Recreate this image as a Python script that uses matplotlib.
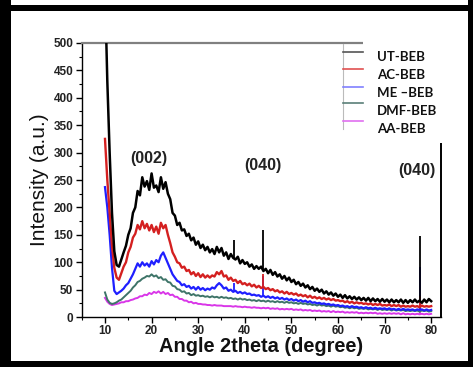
import numpy as np
import matplotlib
matplotlib.use("Agg")
import matplotlib.pyplot as plt
from matplotlib.patches import Rectangle
from matplotlib.lines import Line2D

plt.rcParams["font.family"] = ["Liberation Sans", "DejaVu Sans"]

# 2theta grid, 0.5 degree steps from 10 to 80
angle = np.linspace(10, 80, 141)

ut_beb = [600, 430, 300, 190, 120, 95, 92, 105, 118, 130,
          150, 162, 190, 200, 230, 222, 255, 238, 248, 232,
          262, 236, 240, 228, 255, 234, 246, 225, 215, 190,
          185, 168, 172, 158, 160, 148, 152, 140, 145, 132,
          138, 126, 132, 122, 128, 118, 124, 115, 128, 118,
          126, 112, 118, 106, 115, 108, 105, 110, 98, 104,
          97, 100, 92, 96, 88, 93, 88, 92, 84, 88,
          80, 86, 77, 82, 74, 78, 70, 75, 67, 72,
          64, 68, 60, 64, 57, 61, 54, 58, 51, 55,
          48, 52, 46, 50, 43, 47, 41, 45, 39, 43,
          37, 41, 35, 40, 34, 38, 33, 37, 32, 36,
          31, 35, 30, 35, 29, 34, 29, 33, 28, 33,
          28, 32, 27, 32, 27, 31, 27, 32, 26, 31,
          26, 31, 27, 32, 27, 30, 26, 32, 27, 33,
          29]

ac_beb = [325, 250, 190, 130, 90, 72, 68, 80, 92, 100,
          118, 128, 145, 152, 168, 160, 175, 162, 170, 158,
          168, 155, 165, 152, 172, 162, 168, 150, 135, 118,
          110, 100, 98, 90, 92, 84, 86, 78, 82, 75,
          80, 73, 78, 72, 76, 72, 76, 74, 82, 78,
          84, 74, 76, 68, 72, 66, 68, 62, 66, 60,
          62, 58, 61, 56, 59, 54, 57, 53, 55, 51,
          53, 49, 51, 47, 49, 45, 47, 43, 46, 42,
          44, 41, 43, 39, 41, 38, 40, 36, 39, 35,
          37, 34, 36, 33, 35, 32, 34, 31, 33, 30,
          31, 29, 30, 27, 29, 26, 28, 25, 27, 25,
          26, 24, 25, 23, 25, 22, 24, 22, 24, 21,
          22, 21, 23, 20, 22, 20, 22, 19, 21, 19,
          20, 19, 21, 19, 20, 18, 21, 19, 20, 19,
          20]

me_beb = [237, 200, 150, 90, 48, 42, 45, 48, 52, 58,
          62, 70, 78, 88, 98, 92, 100, 94, 98, 92,
          102, 96, 104, 100, 112, 118, 108, 98, 88, 78,
          72, 66, 64, 58, 60, 55, 57, 52, 55, 50,
          55, 50, 53, 49, 52, 50, 54, 52, 58, 62,
          58, 52, 54, 48, 50, 46, 48, 44, 46, 43,
          45, 42, 43, 40, 41, 39, 40, 37, 39, 36,
          38, 35, 37, 34, 36, 33, 35, 32, 34, 31,
          33, 30, 32, 29, 31, 28, 30, 27, 29, 26,
          27, 25, 26, 24, 25, 23, 24, 22, 23, 21,
          22, 20, 21, 19, 20, 18, 20, 18, 19, 17,
          18, 16, 18, 16, 17, 15, 17, 15, 16, 15,
          16, 14, 16, 14, 15, 13, 15, 13, 15, 13,
          14, 13, 14, 12, 14, 13, 14, 12, 14, 12,
          13]

dmf_beb = [45, 32, 26, 24, 25, 27, 30, 32, 36, 40,
           44, 48, 54, 58, 64, 66, 70, 72, 75, 74,
           78, 74, 76, 71, 73, 68, 69, 64, 63, 57,
           56, 51, 50, 46, 47, 43, 44, 40, 42, 39,
           40, 38, 39, 37, 38, 36, 38, 36, 37, 35,
           37, 35, 36, 34, 35, 33, 34, 32, 34, 32,
           33, 31, 32, 30, 31, 29, 31, 29, 30, 28,
           30, 28, 29, 27, 29, 27, 28, 26, 28, 26,
           27, 25, 26, 24, 26, 24, 25, 23, 24, 22,
           23, 21, 23, 21, 22, 20, 21, 19, 21, 19,
           20, 18, 19, 17, 18, 16, 18, 16, 17, 15,
           16, 15, 16, 14, 15, 14, 15, 13, 15, 13,
           14, 13, 14, 12, 14, 12, 13, 12, 13, 11,
           12, 11, 12, 11, 12, 10, 12, 11, 12, 10,
           11]

aa_beb = [35, 28, 24, 22, 23, 24, 25, 27, 27, 29,
          29, 31, 32, 34, 35, 38, 38, 41, 40, 44,
          42, 46, 44, 47, 43, 46, 42, 44, 40, 41,
          37, 37, 33, 33, 30, 30, 27, 28, 25, 26,
          24, 24, 23, 23, 22, 22, 21, 22, 21, 21,
          21, 20, 20, 20, 20, 19, 20, 19, 19, 18,
          19, 18, 18, 17, 18, 17, 17, 16, 17, 16,
          17, 15, 16, 15, 16, 14, 15, 14, 15, 14,
          15, 13, 14, 13, 14, 12, 13, 12, 13, 11,
          12, 11, 12, 10, 11, 10, 11, 9, 11, 9,
          10, 9, 10, 8, 9, 8, 9, 8, 9, 7,
          8, 7, 8, 7, 8, 7, 8, 6, 7, 6,
          7, 6, 7, 6, 7, 6, 7, 5, 7, 5,
          6, 5, 6, 5, 6, 5, 6, 5, 6, 5,
          6]

# sharp reflections: position, base, top
ut_spikes = ([37.7, 44.0, 77.6], [108, 84, 27], [140, 158, 148])
ac_spikes = ([44.0, 77.6], [55, 20], [78, 38])
me_spikes = ([37.6, 44.0, 77.6], [48, 39, 13], [62, 75, 92])
dmf_spikes = ([77.6], [11], [40])
aa_spikes = ([77.6], [6], [22])

labels = ["UT-BEB", "AC-BEB", "ME \u2013BEB", "DMF-BEB", "AA-BEB"]
colors = ["#000000", "#d42020", "#1f1fff", "#3e7468", "#d936e8"]
legend_colors = ["#555555", "#e05050", "#8080ff", "#5a7f78", "#e070f0"]

peak_labels = ["(002)", "(040)", "(040)"]
peak_x = [19.5, 43.8, 76.9]
peak_y = [290, 277, 268]

x_ticks = [10, 20, 30, 40, 50, 60, 70, 80]
y_ticks = [0, 50, 100, 150, 200, 250, 300, 350, 400, 450, 500]

# Creating the figure
fig = plt.figure(figsize=(4.73, 3.67), dpi=100)
ax = fig.add_axes([0.1727, 0.136, 0.7596, 0.747])

series = [ut_beb, ac_beb, me_beb, dmf_beb, aa_beb]
spikes = [ut_spikes, ac_spikes, me_spikes, dmf_spikes, aa_spikes]
widths = [1.8, 1.7, 1.6, 1.4, 1.4]
for i in range(4, -1, -1):
    ax.plot(angle, series[i], color=colors[i], lw=widths[i], zorder=3 + (4 - i) * 0.1)
    ax.vlines(spikes[i][0], spikes[i][1], spikes[i][2], color=colors[i], lw=1.3,
              zorder=3 + (4 - i) * 0.1)

for txt, px, py in zip(peak_labels, peak_x, peak_y):
    ax.text(px, py, txt, ha="center", va="center", fontsize=11.5, fontweight="bold",
            color="#222222")

# Customizing the axis
ax.set_xlim(7.95, 82.1)
ax.set_ylim(0, 500)
ax.set_xticks(x_ticks)
ax.set_xticklabels([str(v) for v in x_ticks], fontweight="bold", fontsize=8.5,
                   color="#222222")
ax.set_xticks(range(5, 81, 5), minor=True)
ax.set_yticks(y_ticks)
ax.set_yticklabels([str(v) for v in y_ticks], fontweight="bold", fontsize=8.5,
                   color="#222222")
ax.set_yticks(range(0, 501, 25), minor=True)
ax.tick_params(axis="both", which="major", direction="out", length=4, width=1, pad=2)
ax.tick_params(axis="both", which="minor", direction="out", length=2.5, width=0.8)

ax.spines["top"].set_color("#808080")
ax.spines["top"].set_linewidth(1.6)
ax.spines["right"].set_linewidth(1.4)
ax.spines["left"].set_linewidth(1.0)
ax.spines["bottom"].set_linewidth(1.0)

ax.set_xlabel("Angle 2theta (degree)", fontsize=14.4, fontweight="bold",
              labelpad=0, color="#111111")
ax.set_ylabel("Intensity (a.u.)", fontsize=15, labelpad=3, color="#111111")

# white block under the legend text (hides the corner of the frame)
W, H = 473, 367
fig.patches.append(Rectangle((363 / W, 1 - 143 / H), (447 - 363) / W, (143 - 40) / H,
                             transform=fig.transFigure, facecolor="white",
                             edgecolor="none", zorder=1))
fig.lines.append(Line2D([343 / W, 343 / W], [1 - 44 / H, 1 - 129 / H],
                        transform=fig.transFigure, color="#bbbbbb", lw=0.8, zorder=1))

# legend: short coloured keys sit a little above their labels
key_rows = [51.7, 69.3, 86.7, 103.3, 120.7]
text_rows = [57.3, 75.0, 92.7, 110.7, 129.3]
for c, lab, ky, ty in zip(legend_colors, labels, key_rows, text_rows):
    fig.lines.append(Line2D([343 / W, 363 / W], [1 - ky / H, 1 - ky / H],
                            transform=fig.transFigure, color=c, lw=1.2, zorder=2))
    fig.text(377 / W, 1 - ty / H, lab, ha="left", va="center", fontsize=9.5,
             fontweight="bold", family="Lato", color="#111111", zorder=2)

# black frame around the picture
for (x0, y0, w, h) in [(0, 0, 11, H), (0, 5, W, 6), (0, 361, W, 6), (468, 0, 5, H)]:
    fig.patches.append(Rectangle((x0 / W, 1 - (y0 + h) / H), w / W, h / H,
                                 transform=fig.transFigure, facecolor="black",
                                 edgecolor="none", zorder=3))

plt.savefig("out.png", dpi=100)
plt.close()
